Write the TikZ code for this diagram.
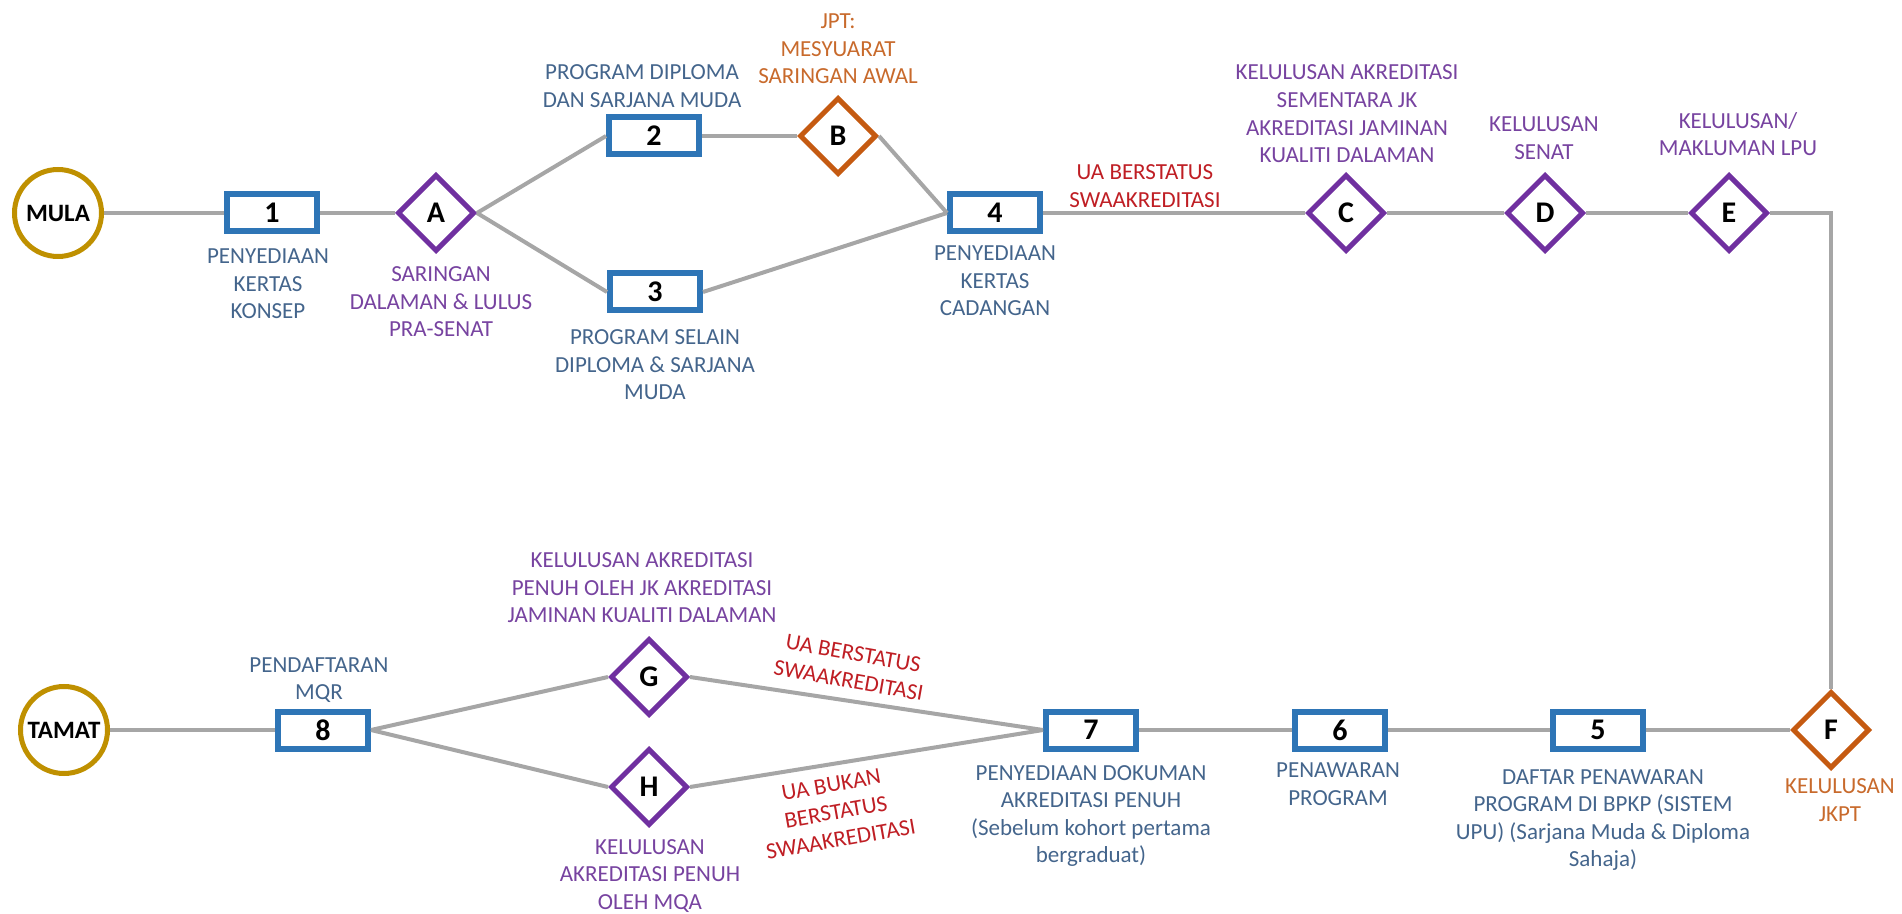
\documentclass[tikz,border=0pt]{standalone}
\usepackage{fontspec}
\setmainfont{Carlito}
\usetikzlibrary{shapes.geometric}
\definecolor{lineg}{HTML}{A6A6A6}
\definecolor{boxb}{HTML}{2E75B6}
\definecolor{txtb}{HTML}{44658C}
\definecolor{purp}{HTML}{7030A0}
\definecolor{purpt}{HTML}{7743A0}
\definecolor{oran}{HTML}{C55A11}
\definecolor{orant}{HTML}{C86A2C}
\definecolor{redt}{HTML}{BF1E24}
\definecolor{gold}{HTML}{BF9000}
\begin{document}
\begin{tikzpicture}[x=0.5pt,y=-0.5pt,
  stepbox/.style={draw=boxb, line width=3pt, fill=white, minimum width=45pt, minimum height=18.5pt, inner sep=0pt, font=\fontsize{15}{15}\selectfont\bfseries},
  dec/.style={diamond, draw=#1, line width=2.5pt, fill=white, minimum width=38.5pt, minimum height=38.5pt, inner sep=0pt, aspect=1, font=\fontsize{15}{15}\selectfont\bfseries},
  term/.style={circle, draw=gold, line width=2.5pt, fill=white, minimum size=43.5pt, inner sep=0pt, font=\fontsize{12.5}{12.5}\selectfont\bfseries},
  lab/.style={align=center, text=#1, font=\fontsize{11.5}{13.8}\selectfont, inner sep=0pt},
  conn/.style={draw=lineg, line width=2pt},
]
\useasboundingbox (0,0) rectangle (1902,914);
% nodes
\node[term] (mula) at (58,213) {MULA};
\node[stepbox] (b1) at (272,213) {1};
\node[dec=purp] (A) at (436,213) {A};
\node[stepbox] (b2) at (654,136) {2};
\node[dec=oran] (B) at (838,136) {B};
\node[stepbox] (b3) at (655,292) {3};
\node[stepbox] (b4) at (995,213) {4};
\node[dec=purp] (C) at (1346,213) {C};
\node[dec=purp] (D) at (1545,213) {D};
\node[dec=purp] (E) at (1729,213) {E};
\coordinate (cr) at (1831,213);
\node[dec=oran] (F) at (1831,730) {F};
\node[stepbox] (b5) at (1598,730) {5};
\node[stepbox] (b6) at (1340,730) {6};
\node[stepbox] (b7) at (1091,730) {7};
\node[dec=purp] (G) at (649,677) {G};
\node[dec=purp] (H) at (649,787) {H};
\node[stepbox] (b8) at (323,730) {8};
\node[term] (tamat) at (64,730) {TAMAT};
% connectors
\draw[conn] (mula) -- (b1);
\draw[conn] (b1) -- (A);
\draw[conn] (A.east) -- (b2.west);
\draw[conn] (A.east) -- (b3.west);
\draw[conn] (b2) -- (B);
\draw[conn] (B.east) -- (b4.west);
\draw[conn] (b3.east) -- (b4.west);
\draw[conn] (b4) -- (C);
\draw[conn] (C) -- (D);
\draw[conn] (D) -- (E);
\draw[conn] (E.east) -- (cr) -- (F.north);
\draw[conn] (F) -- (b5);
\draw[conn] (b5) -- (b6);
\draw[conn] (b6) -- (b7);
\draw[conn] (b7.west) -- (G.east);
\draw[conn] (b7.west) -- (H.east);
\draw[conn] (b8.east) -- (G.west);
\draw[conn] (b8.east) -- (H.west);
\draw[conn] (b8) -- (tamat);
% labels
\node[lab=txtb] (l1) at (268,284) {PENYEDIAAN\\KERTAS\\KONSEP};
\node[lab=purpt] (lA) at (441,302) {SARINGAN\\DALAMAN \& LULUS\\PRA-SENAT};
\node[lab=txtb] (l2) at (642,86) {PROGRAM DIPLOMA\\DAN SARJANA MUDA};
\node[lab=orant] (lB) at (838,49) {JPT:\\MESYUARAT\\SARINGAN AWAL};
\node[lab=txtb] (l3) at (655,365) {PROGRAM SELAIN\\DIPLOMA \& SARJANA\\MUDA};
\node[lab=txtb] (l4) at (995,281) {PENYEDIAAN\\KERTAS\\CADANGAN};
\node[lab=redt] (lua1) at (1145,186) {UA BERSTATUS\\SWAAKREDITASI};
\node[lab=purpt] (lC) at (1347,114) {KELULUSAN AKREDITASI\\SEMENTARA JK\\AKREDITASI JAMINAN\\KUALITI DALAMAN};
\node[lab=purpt] (lD) at (1544,138) {KELULUSAN\\SENAT};
\node[lab=purpt] (lE) at (1738,134) {KELULUSAN/\\MAKLUMAN LPU};
\node[lab=orant] (lF) at (1840,800) {KELULUSAN\\JKPT};
\node[lab=txtb] (l5) at (1603,820) {DAFTAR PENAWARAN\\PROGRAM DI BPKP (SISTEM\\UPU) (Sarjana Muda \& Diploma\\Sahaja)};
\node[lab=txtb] (l6) at (1338,784) {PENAWARAN\\PROGRAM};
\node[lab=txtb] (l7) at (1091,816) {PENYEDIAAN DOKUMAN\\AKREDITASI PENUH\\(Sebelum kohort pertama\\bergraduat)};
\node[lab=txtb] (l8) at (319,680) {PENDAFTARAN\\MQR};
\node[lab=purpt] (lG) at (642,588) {KELULUSAN AKREDITASI\\PENUH OLEH JK AKREDITASI\\JAMINAN KUALITI DALAMAN};
\node[lab=purpt] (lH) at (650,876) {KELULUSAN\\AKREDITASI PENUH\\OLEH MQA};
\node[lab=redt, rotate=-10] (lua2) at (851,667) {UA BERSTATUS\\SWAAKREDITASI};
\node[lab=redt, rotate=10] (lua3) at (836,812) {UA BUKAN\\BERSTATUS\\SWAAKREDITASI};
\end{tikzpicture}
\end{document}
